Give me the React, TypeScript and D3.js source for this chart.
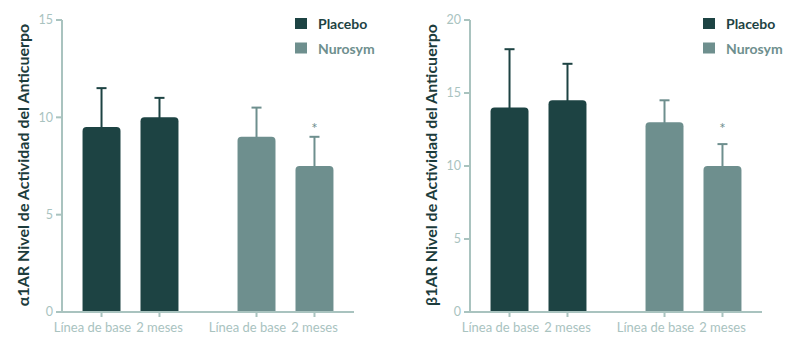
import React from "react";
import * as d3 from "d3";

// categories
const groups = ["Placebo", "Nurosym"];
const timepoints = ["Línea de base", "2 meses"];

// α1AR panel
const alphaPlacebo = [9.5, 10];
const alphaPlaceboUpper = [11.5, 11];
const alphaNurosym = [9, 7.5];
const alphaNurosymUpper = [10.5, 9];
const alphaTicks = [0, 5, 10, 15];
const alphaStar = 9.55; // over Nurosym, 2 meses

// β1AR panel
const betaPlacebo = [14, 14.5];
const betaPlaceboUpper = [18, 17];
const betaNurosym = [13, 10];
const betaNurosymUpper = [14.5, 11.5];
const betaTicks = [0, 5, 10, 15, 20];
const betaStar = 12.75;

const COLORS: Record<string, string> = { Placebo: "#1d4343", Nurosym: "#6e8f8e" };
const AXIS = "#a9c3bf";
const FONT = "Lato, 'Open Sans', sans-serif";

const W = 292;
const TOP = 20;
const BOTTOM = 312;

type PanelProps = {
  left: number;
  label: string;
  ticks: number[];
  placebo: number[];
  placeboUpper: number[];
  nurosym: number[];
  nurosymUpper: number[];
  star: number;
};

function barPath(x: number, y: number, w: number, h: number, r: number) {
  const p = d3.path();
  p.moveTo(x, y + h);
  p.lineTo(x, y + r);
  p.arcTo(x, y, x + r, y, r);
  p.lineTo(x + w - r, y);
  p.arcTo(x + w, y, x + w, y + r, r);
  p.lineTo(x + w, y + h);
  p.closePath();
  return p.toString();
}

const Panel = ({ left, label, ticks, placebo, placeboUpper, nurosym, nurosymUpper, star }: PanelProps) => {
  const y = d3
    .scaleLinear()
    .domain([0, d3.max(ticks) as number])
    .range([BOTTOM, TOP]);

  const outer = d3
    .scaleBand()
    .domain(groups)
    .range([0, W])
    .paddingInner(0.252)
    .paddingOuter(0.068);

  const inner = d3
    .scaleBand()
    .domain(timepoints)
    .range([0, outer.bandwidth()])
    .paddingInner(0.345)
    .paddingOuter(0.1725);

  const series = [
    { group: "Placebo", values: placebo, upper: placeboUpper },
    { group: "Nurosym", values: nurosym, upper: nurosymUpper },
  ];

  const bars = series.flatMap((s) =>
    timepoints.map((t, i) => ({
      group: s.group,
      t,
      i,
      value: s.values[i],
      upper: s.upper[i],
      x: (outer(s.group) as number) + (inner(t) as number),
    }))
  );

  const bw = inner.bandwidth();
  const starX = (outer("Nurosym") as number) + (inner("2 meses") as number) + bw / 2;

  return (
    <g transform={`translate(${left},0)`}>
      <text
        transform={`translate(-40,${(TOP + BOTTOM) / 2 - 1}) rotate(-90)`}
        textAnchor="middle"
        dominantBaseline="central"
        fontFamily={FONT}
        fontWeight={700}
        fontSize={16}
        fill="#1d3c3c"
      >
        {label}
      </text>

      {bars.map((b) => (
        <g key={b.group + b.t}>
          <line
            x1={b.x + bw / 2}
            x2={b.x + bw / 2}
            y1={y(b.value) + 2}
            y2={y(b.upper)}
            stroke={COLORS[b.group]}
            strokeWidth={2}
          />
          <line
            x1={b.x + bw / 2 - 5}
            x2={b.x + bw / 2 + 5}
            y1={y(b.upper)}
            y2={y(b.upper)}
            stroke={COLORS[b.group]}
            strokeWidth={2}
          />
          <path d={barPath(b.x, y(b.value), bw, y(0) - y(b.value), 4)} fill={COLORS[b.group]} />
        </g>
      ))}

      <text
        x={starX}
        y={y(star) + 8}
        textAnchor="middle"
        fontFamily={FONT}
        fontSize={15}
        fill={COLORS.Nurosym}
      >
        *
      </text>

      {/* y axis */}
      <line x1={0} x2={0} y1={TOP} y2={BOTTOM} stroke={AXIS} strokeWidth={2} />
      {ticks.map((t) => (
        <g key={t} transform={`translate(0,${y(t)})`}>
          <line x1={-6} x2={0} stroke={AXIS} strokeWidth={2} />
          <text
            x={-9}
            dy="0.35em"
            textAnchor="end"
            fontFamily={FONT}
            fontSize={12.5}
            fill={AXIS}
          >
            {t}
          </text>
        </g>
      ))}

      {/* x axis */}
      <line x1={-1} x2={W} y1={BOTTOM} y2={BOTTOM} stroke={AXIS} strokeWidth={2} />
      {bars.map((b) => (
        <g key={"x" + b.group + b.t} transform={`translate(${b.x + bw / 2},${BOTTOM})`}>
          <line y1={0} y2={5} stroke={AXIS} strokeWidth={2} />
          <text
            x={b.i === 0 ? -9 : 0}
            y={19.5}
            textAnchor="middle"
            fontFamily={FONT}
            fontSize={13}
            fill={AXIS}
          >
            {b.t}
          </text>
        </g>
      ))}

      {/* legend */}
      {groups.map((g, i) => (
        <g key={g} transform={`translate(233,${18 + i * 24.5})`}>
          <rect width={12} height={11} fill={COLORS[g]} />
          <text
            x={23}
            y={5.5}
            dominantBaseline="central"
            fontFamily={FONT}
            fontWeight={700}
            fontSize={14}
            fill={COLORS[g]}
          >
            {g}
          </text>
        </g>
      ))}
    </g>
  );
};

export default function App() {
  return (
    <svg
      width={800}
      height={351}
      style={{ position: "absolute", left: 0, top: 0, background: "#fff" }}
    >
      <Panel
        left={62}
        label="α1AR Nivel de Actividad del Anticuerpo"
        ticks={alphaTicks}
        placebo={alphaPlacebo}
        placeboUpper={alphaPlaceboUpper}
        nurosym={alphaNurosym}
        nurosymUpper={alphaNurosymUpper}
        star={alphaStar}
      />
      <Panel
        left={470}
        label="β1AR Nivel de Actividad del Anticuerpo"
        ticks={betaTicks}
        placebo={betaPlacebo}
        placeboUpper={betaPlaceboUpper}
        nurosym={betaNurosym}
        nurosymUpper={betaNurosymUpper}
        star={betaStar}
      />
    </svg>
  );
}
